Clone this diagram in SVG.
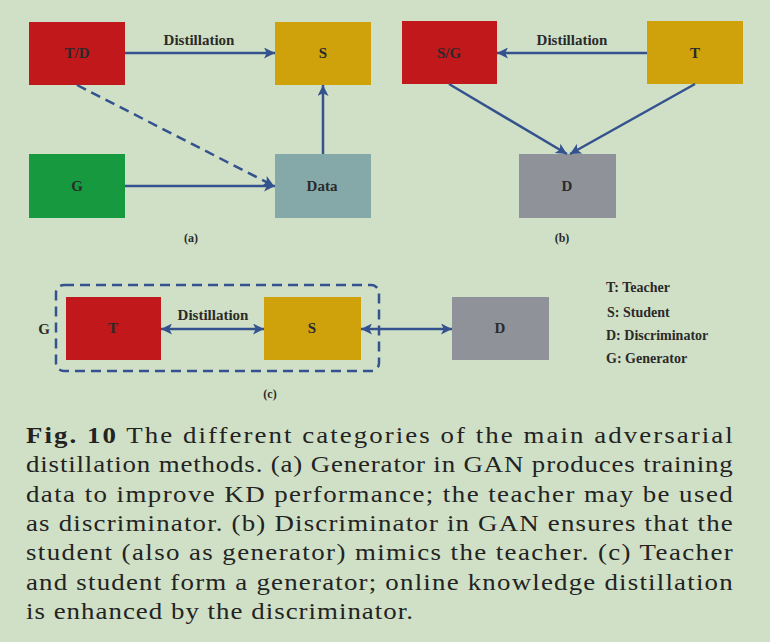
<svg xmlns="http://www.w3.org/2000/svg" width="770" height="642" viewBox="0 0 770 642">
<style>
.lbl{font-family:"Liberation Serif","Times New Roman",serif;font-weight:bold;font-size:15px;fill:#2a2a2a;text-anchor:middle;dominant-baseline:central}
.leg{font-family:"Liberation Serif","Times New Roman",serif;font-weight:bold;font-size:14px;fill:#2a2a2a;dominant-baseline:central}
.sub{font-family:"Liberation Serif","Times New Roman",serif;font-weight:bold;font-size:12px;fill:#2a2a2a;text-anchor:middle;dominant-baseline:central}
.cap{font-family:"Liberation Serif","Times New Roman",serif;font-size:24px;fill:#232323}
.ln{stroke:#34528e;stroke-width:2.5;fill:none}
.dash{stroke-dasharray:10 6}
.red{fill:#c1181c}.yel{fill:#cfa20b}.grn{fill:#179a3f}.teal{fill:#85a9a8}.gry{fill:#8f9299}
</style>
<defs>
<marker id="ah" viewBox="0 0 10 10" refX="10" refY="5" markerWidth="12" markerHeight="11" markerUnits="userSpaceOnUse" orient="auto-start-reverse">
<path d="M0,0 L10,5 L0,10 L2.5,5 z" fill="#34528e" stroke="none"/>
</marker>
</defs>
<rect width="770" height="642" fill="#d0e0c6"/>

<!-- (a) -->
<g id="a-TD"><rect class="red" x="29" y="22" width="96" height="63"/><text class="lbl" x="77" y="53">T/D</text></g>
<g id="a-S"><rect class="yel" x="275" y="22" width="96" height="63"/><text class="lbl" x="323" y="53">S</text></g>
<g id="a-G"><rect class="grn" x="29" y="154" width="96" height="64"/><text class="lbl" x="77" y="186">G</text></g>
<g id="a-Data"><rect class="teal" x="275" y="154" width="96" height="64"/><text class="lbl" x="322" y="186">Data</text></g>
<text class="sub" x="191" y="238">(a)</text>

<!-- (b) -->
<g id="b-SG"><rect class="red" x="402" y="21" width="95" height="63"/><text class="lbl" x="449" y="53">S/G</text></g>
<g id="b-T"><rect class="yel" x="647" y="21" width="96" height="63"/><text class="lbl" x="695" y="53">T</text></g>
<g id="b-D"><rect class="gry" x="519" y="154" width="97" height="64"/><text class="lbl" x="567" y="186">D</text></g>
<text class="sub" x="562" y="238">(b)</text>

<!-- (c) -->
<g id="c-G"><rect class="ln dash" x="56" y="285" width="323" height="86" rx="8"/><text class="lbl" x="44" y="329">G</text></g>
<g id="c-T"><rect class="red" x="66" y="297" width="95" height="63"/><text class="lbl" x="113" y="328">T</text></g>
<g id="c-S"><rect class="yel" x="264" y="297" width="97" height="63"/><text class="lbl" x="312" y="328">S</text></g>
<g id="c-D"><rect class="gry" x="452" y="297" width="97" height="63"/><text class="lbl" x="500" y="328">D</text></g>
<text class="sub" x="270" y="394">(c)</text>

<g id="connectors">
<line class="ln" x1="125" y1="53" x2="275" y2="53" marker-end="url(#ah)"/>
<text class="lbl" x="199" y="40">Distillation</text>
<line class="ln dash" x1="77" y1="85" x2="274" y2="186" marker-end="url(#ah)"/>
<line class="ln" x1="125" y1="186" x2="275" y2="186" marker-end="url(#ah)"/>
<line class="ln" x1="323" y1="154" x2="323" y2="85" marker-end="url(#ah)"/>

<line class="ln" x1="647" y1="53" x2="497" y2="53" marker-end="url(#ah)"/>
<text class="lbl" x="572" y="40">Distillation</text>
<line class="ln" x1="449" y1="84" x2="567" y2="154" marker-end="url(#ah)"/>
<line class="ln" x1="695" y1="84" x2="570" y2="154" marker-end="url(#ah)"/>

<line class="ln" x1="161" y1="329" x2="264" y2="329" marker-start="url(#ah)" marker-end="url(#ah)"/>
<text class="lbl" x="213" y="315">Distillation</text>
<line class="ln" x1="361" y1="329" x2="452" y2="329" marker-start="url(#ah)" marker-end="url(#ah)"/>
</g>

<g id="legend">
<text class="leg" x="606" y="287">T: Teacher</text>
<text class="leg" x="607" y="312">S: Student</text>
<text class="leg" x="606" y="335">D: Discriminator</text>
<text class="leg" x="606" y="358">G: Generator</text>
</g>

<g id="caption" transform="scale(1.12,1)">
<text class="cap" x="23.2" y="443" textLength="631" lengthAdjust="spacing"><tspan font-weight="bold">Fig. 10</tspan> The different categories of the main adversarial</text>
<text class="cap" x="23.2" y="472" textLength="631" lengthAdjust="spacing">distillation methods. (a) Generator in GAN produces training</text>
<text class="cap" x="23.2" y="502" textLength="631" lengthAdjust="spacing">data to improve KD performance; the teacher may be used</text>
<text class="cap" x="23.2" y="531" textLength="631" lengthAdjust="spacing">as discriminator. (b) Discriminator in GAN ensures that the</text>
<text class="cap" x="23.2" y="560" textLength="631" lengthAdjust="spacing">student (also as generator) mimics the teacher. (c) Teacher</text>
<text class="cap" x="23.2" y="590" textLength="631" lengthAdjust="spacing">and student form a generator; online knowledge distillation</text>
<text class="cap" x="23.2" y="619" textLength="345.5" lengthAdjust="spacing">is enhanced by the discriminator.</text>
</g>
</svg>
